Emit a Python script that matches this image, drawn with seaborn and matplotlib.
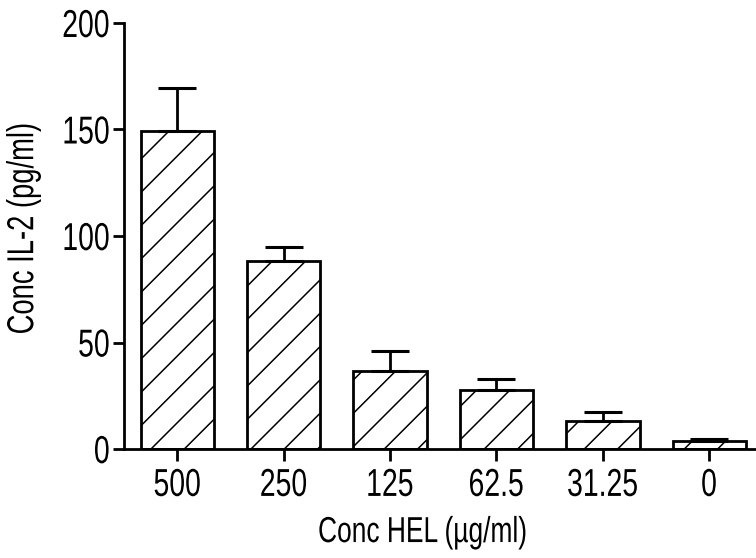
import matplotlib
matplotlib.use("Agg")
import matplotlib.pyplot as plt
import seaborn as sns
import pandas as pd
from matplotlib import font_manager
from matplotlib.patheffects import AbstractPathEffect
from matplotlib.transforms import Affine2D

categories = ["500", "250", "125", "62.5", "31.25", "0"]
il2_means = [149.5, 88.5, 36.8, 27.8, 13.0, 3.6]
il2_err = [20.0, 6.3, 9.2, 5.2, 4.2, 1.1]
y_ticks = [0, 50, 100, 150, 200]


class Squeeze(AbstractPathEffect):
    """Condense glyphs horizontally (narrow font look)."""
    def __init__(self, sx=0.73, anchor="center"):
        super().__init__()
        self.sx = sx
        self.anchor = anchor

    def draw_path(self, renderer, gc, tpath, affine, rgbFace=None):
        v = tpath.vertices
        if len(v):
            if self.anchor == "right":
                cx = v[:, 0].max()
            elif self.anchor == "left":
                cx = v[:, 0].min()
            else:
                cx = (v[:, 0].min() + v[:, 0].max()) / 2
        else:
            cx = 0
        a = Affine2D().translate(-cx, 0).scale(self.sx, 1.0).translate(cx, 0) + affine
        renderer.draw_path(gc, tpath, a, rgbFace)


sns.set_theme(style="ticks")
avail = {f.name for f in font_manager.fontManager.ttflist}
fam = [f for f in ["Liberation Sans", "DejaVu Sans"] if f in avail]
plt.rcParams["font.family"] = fam
plt.rcParams["hatch.linewidth"] = 1.1
plt.rcParams["text.color"] = "black"

df = pd.DataFrame({"conc": categories, "il2": il2_means})

fig = plt.figure(figsize=(7.56, 5.58), dpi=100)
ax = fig.add_axes([0.164, 0.1953, 0.836, 0.7635])

sns.barplot(data=df, x="conc", y="il2", order=categories, color="white",
            edgecolor="black", linewidth=2, hatch="/", width=0.69,
            errorbar=None, ax=ax)
for p in ax.patches:
    p.set_facecolor("white")
    p.set_hatch("/")

xs = list(range(len(categories)))
ax.errorbar(xs, il2_means, yerr=[[0] * len(il2_err), il2_err], fmt="none",
            ecolor="black", elinewidth=2, capsize=13.7, capthick=2.2, zorder=1)

ax.set_xlim(-0.502, 5.44)
ax.set_ylim(0, 200)
ax.set_yticks(y_ticks)
ax.set_xticks(xs)
ax.set_xticklabels(categories)
ax.set_xlabel("Conc HEL (µg/ml)", fontsize=26, color="black")
ax.set_ylabel("Conc IL-2 (pg/ml)", fontsize=27, color="black")
ax.xaxis.set_label_coords(0.473, -0.155)
ax.yaxis.set_label_coords(-0.131, 0.518)
ax.tick_params(axis="both", labelsize=28, width=2, color="black", labelcolor="black")
ax.tick_params(axis="x", length=8.6, pad=5)
ax.tick_params(axis="y", length=8, pad=2)
for s in ["top", "right"]:
    ax.spines[s].set_visible(False)
for s in ["left", "bottom"]:
    ax.spines[s].set_linewidth(2)
    ax.spines[s].set_color("black")

for t in ax.get_xticklabels():
    t.set_path_effects([Squeeze(0.73, "center")])
for t in ax.get_yticklabels():
    t.set_path_effects([Squeeze(0.73, "right")])
ax.xaxis.label.set_path_effects([Squeeze(0.73, "center")])
ax.yaxis.label.set_path_effects([Squeeze(0.73, "center")])

fig.savefig("out.png", dpi=100)
